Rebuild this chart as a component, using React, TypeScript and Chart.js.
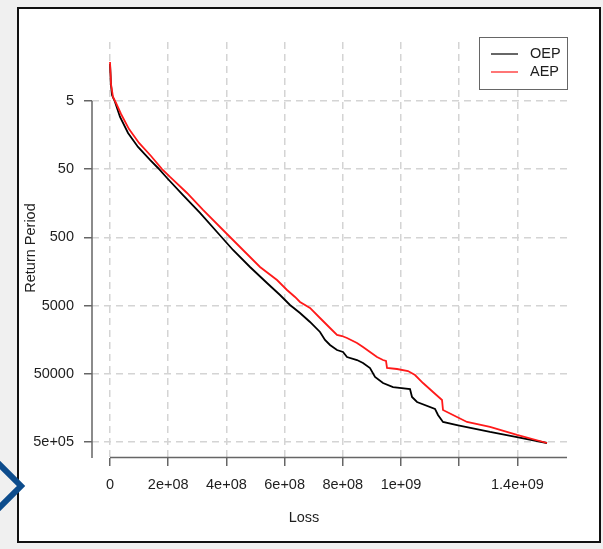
import React, { useEffect, useRef } from "react";
import { Chart, registerables } from "chart.js";
Chart.register(...registerables);

// Loss values in millions
const lossOEP = [0, 3.4, 6.9, 17.2, 34.4, 61.9, 96.2, 137.5, 165, 195.9, 250.9, 309.3, 367.7, 422.7, 481.1, 539.5, 584.2, 618.5, 652.9, 687.3, 721.6, 738.8, 756, 780, 800.7, 814.4, 848.8, 869.4, 893.5, 910.7, 938.1, 972.5, 1030.9, 1037.8, 1055, 1116.8, 1127.1, 1144.3, 1192.4, 1305.8, 1398.6, 1501.7];
const rpOEP = [1.43, 2.91, 4.08, 5.17, 8.58, 14.7, 23.6, 36.6, 48.0, 67.3, 119.6, 219, 417, 765, 1358, 2333, 3499, 4898, 6425, 8690, 12190, 15960, 18910, 22390, 23950, 28360, 31400, 34750, 41120, 55700, 68260, 78150, 83570, 109500, 129500, 164000, 200900, 254500, 281800, 356700, 422700, 517400];
const lossAEP = [0, 3.4, 10.3, 20.6, 37.8, 65.3, 99.7, 140.9, 178.7, 206.2, 264.6, 319.6, 388.3, 457, 515.5, 573.9, 608.2, 635.7, 652.9, 687.3, 721.6, 756, 780, 797.2, 814.4, 848.8, 869.4, 893.5, 917.5, 938.1, 948.4, 951.9, 986.2, 1024, 1048.1, 1075.6, 1110, 1140.9, 1144.3, 1192.4, 1226.8, 1305.8, 1398.6, 1501.7];
const rpAEP = [1.34, 2.82, 4.37, 5.35, 7.75, 12.9, 20.6, 32.0, 49.7, 65, 111.7, 198.2, 389.6, 765, 1358, 2107, 2953, 3738, 4426, 5420, 7600, 10650, 13490, 13970, 14940, 17670, 20230, 23950, 28360, 31400, 32450, 41120, 42550, 45510, 52100, 68260, 92410, 121100, 169800, 214900, 254500, 301300, 394500, 517400];

const xTickValues = [0, 2e8, 4e8, 6e8, 8e8, 1e9, 1.2e9, 1.4e9];
const xTickLabels = ["0", "2e+08", "4e+08", "6e+08", "8e+08", "1e+09", "", "1.4e+09"];
const yTickValues = [5, 50, 500, 5000, 50000, 500000];
const yTickLabels = ["5", "50", "500", "5000", "50000", "5e+05"];
const seriesNames = ["OEP", "AEP"];
const seriesColors = ["#000000", "#ff1a1a"];
const xTitle = "Loss";
const yTitle = "Return Period";

const FONT = "'Liberation Sans', Arial, Helvetica, sans-serif";
const TEXT = "#1e1e1e";

const decor = {
  id: "decor",
  afterDraw(chart: any) {
    const { ctx, chartArea, scales } = chart;
    const xs = scales.x;
    const ys = scales.y;
    ctx.save();
    ctx.setLineDash([]);
    ctx.strokeStyle = "#666";
    ctx.lineWidth = 1.5;
    ctx.beginPath();
    ctx.moveTo(xs.getPixelForValue(xTickValues[0]), chartArea.bottom - 0.5);
    ctx.lineTo(chartArea.right, chartArea.bottom - 0.5);
    ctx.moveTo(chartArea.left, ys.getPixelForValue(yTickValues[0]));
    ctx.lineTo(chartArea.left, chartArea.bottom);
    ctx.stroke();
    ctx.fillStyle = TEXT;
    ctx.font = `14.5px ${FONT}`;
    ctx.textAlign = "center";
    ctx.textBaseline = "middle";
    ctx.fillText(xTitle, 304, 518);
    ctx.save();
    ctx.translate(31, 248);
    ctx.rotate(-Math.PI / 2);
    ctx.fillText(yTitle, 0, 0);
    ctx.restore();
    ctx.fillStyle = "#ffffff";
    ctx.fillRect(479.5, 37.5, 88, 52);
    ctx.strokeStyle = "#666";
    ctx.lineWidth = 1;
    ctx.strokeRect(479.5, 37.5, 88, 52);
    seriesNames.forEach((name, i) => {
      const yy = 54 + i * 18;
      ctx.strokeStyle = seriesColors[i];
      ctx.lineWidth = 1.2;
      ctx.beginPath();
      ctx.moveTo(491, yy);
      ctx.lineTo(518, yy);
      ctx.stroke();
      ctx.fillStyle = TEXT;
      ctx.textAlign = "left";
      ctx.fillText(name, 530, yy);
    });
    ctx.restore();
  },
};

const gridOpts = {
  color: "#d4d4d4",
  lineWidth: 1.5,
  drawTicks: true,
  tickLength: 8,
  tickColor: "#666",
  tickWidth: 1.5,
  tickBorderDash: [],
};

export default function App() {
  const ref = useRef<HTMLCanvasElement | null>(null);
  useEffect(() => {
    if (!ref.current) return;
    const chart = new Chart(ref.current, {
      type: "line",
      data: {
        datasets: [
          {
            label: seriesNames[0],
            data: lossOEP.map((v, i) => ({ x: v * 1e6, y: rpOEP[i] })),
            borderColor: seriesColors[0],
            borderWidth: 1.8,
            pointRadius: 0,
            tension: 0,
            fill: false,
            order: 2,
          },
          {
            label: seriesNames[1],
            data: lossAEP.map((v, i) => ({ x: v * 1e6, y: rpAEP[i] })),
            borderColor: seriesColors[1],
            borderWidth: 1.8,
            pointRadius: 0,
            tension: 0,
            fill: false,
            order: 1,
          },
        ],
      },
      options: {
        responsive: false,
        animation: false,
        devicePixelRatio: 1,
        layout: { padding: { left: 0, top: 42, right: 36, bottom: 0 } },
        plugins: { legend: { display: false }, tooltip: { enabled: false } },
        scales: {
          x: {
            type: "linear",
            min: -61.9e6,
            max: 1570.4e6,
            afterFit: (s: any) => { s.height = 91; },
            afterBuildTicks: (s: any) => { s.ticks = xTickValues.map((v) => ({ value: v })); },
            border: { display: false, dash: [7, 5] },
            grid: gridOpts,
            ticks: {
              autoSkip: false,
              maxRotation: 0,
              padding: 10,
              color: TEXT,
              font: { family: FONT, size: 14.5 },
              callback: (_v: any, i: number) => xTickLabels[i],
            },
          },
          y: {
            type: "logarithmic",
            reverse: true,
            min: 0.682,
            max: 858500,
            afterFit: (s: any) => { s.width = 92; },
            afterBuildTicks: (s: any) => { s.ticks = yTickValues.map((v) => ({ value: v })); },
            border: { display: false, dash: [7, 5] },
            grid: gridOpts,
            ticks: {
              autoSkip: false,
              padding: 10,
              color: TEXT,
              font: { family: FONT, size: 14.5 },
              callback: (_v: any, i: number) => yTickLabels[i],
            },
          },
        },
      },
      plugins: [decor],
    } as any);
    return () => chart.destroy();
  }, []);

  return (
    <div style={{ position: "fixed", left: 0, top: 0, width: 603, height: 549, background: "#f0f0f0", overflow: "hidden" }}>
      <div style={{ position: "absolute", left: 17, top: 7, width: 580, height: 532, background: "#fff", border: "2px solid #111" }} />
      <canvas ref={ref} width={603} height={549} style={{ position: "absolute", left: 0, top: 0, width: 603, height: 549 }} />
      <svg width={40} height={60} style={{ position: "absolute", left: 0, top: 458 }}>
        <polyline points="-4,3 21,28 -4,53" fill="none" stroke="#0d4c8c" strokeWidth={6} />
      </svg>
    </div>
  );
}
